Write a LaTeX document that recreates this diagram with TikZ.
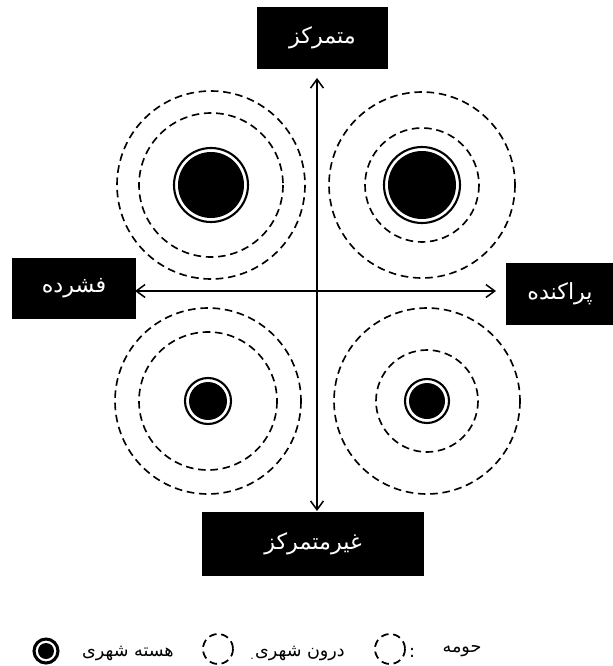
\documentclass[tikz,border=0pt]{standalone}
\usepackage{fontspec}
\usepackage{tikz}
\usetikzlibrary{arrows.meta,positioning}
\TeXXeTstate=1
\newfontfamily\farsi[Script=Arabic]{DejaVu Sans}

\begin{document}
\begin{tikzpicture}[x=0.03cm, y=-0.03cm, >={Straight Barb[length=7.5pt,width=11pt]}, line width=1.3pt,
  label box/.style={draw, fill=black, text=white, font=\farsi\fontsize{19}{22}\selectfont, inner sep=0pt},
  legend text/.style={font=\farsi\fontsize{15}{18}\selectfont, inner sep=0pt},
  ring/.style={dash pattern=on 6.5pt off 4pt, line width=1.4pt}]
\useasboundingbox (0,0) rectangle (613,666);
\node[label box, minimum width=3.87cm, minimum height=1.8cm] (top) at (322.5,38) {\beginR متمرکز\endR};
\node[label box, minimum width=3.66cm, minimum height=1.77cm] (left) at (74,288.5) {\beginR فشرده\endR};
\node[label box, minimum width=3.18cm, minimum height=1.8cm] (right) at (560,294) {\beginR پراکنده\endR};
\node[label box, minimum width=6.6cm, minimum height=1.86cm] (bottom) at (313,544) {\beginR غیرمتمرکز\endR};
\coordinate (N) at (317,78);
\coordinate (S) at (317,511);
\coordinate (W) at (135,291);
\coordinate (E) at (496,291);
\draw[<->] (N) -- (S);
\draw[<->] (W) -- (E);
% circles: center, core, inner, outer
\foreach \cx/\cy/\rc/\ri/\ro/\n in {211/185/37/72/94/tl, 422/185/38/57/93/tr, 208/401/23/69/93/bl, 427/401/22/51/93/br}{
  \coordinate (\n) at (\cx,\cy);
  \draw[ring] (\n) circle[radius=\ri];
  \draw[ring] (\n) circle[radius=\ro];
  \draw[line width=1.8pt, fill=white] (\n) circle[radius=\rc];
  \fill[black] (\n) circle[radius=\rc-4];
}
% legend
\coordinate (k1) at (46,651);
\draw[line width=2.6pt, fill=white] (k1) circle[radius=12];
\fill[black] (k1) circle[radius=8];
\node[legend text] (t1) at (128,653) {\beginR هسته شهری\endR};
\coordinate (k2) at (218,649);
\draw[ring, line width=1.5pt] (k2) circle[radius=15];
\node[legend text, font=\farsi\fontsize{9}{10}\selectfont] (dot) at (252,659) {.};
\node[legend text] (t2) at (300,653) {\beginR درون شهری\endR};
\coordinate (k3) at (390,649);
\draw[ring, line width=1.5pt] (k3) circle[radius=15];
\node[legend text] (colon) at (412,653) {:};
\node[legend text] (t3) at (462,651) {\beginR حومه\endR};
\end{tikzpicture}
\end{document}
